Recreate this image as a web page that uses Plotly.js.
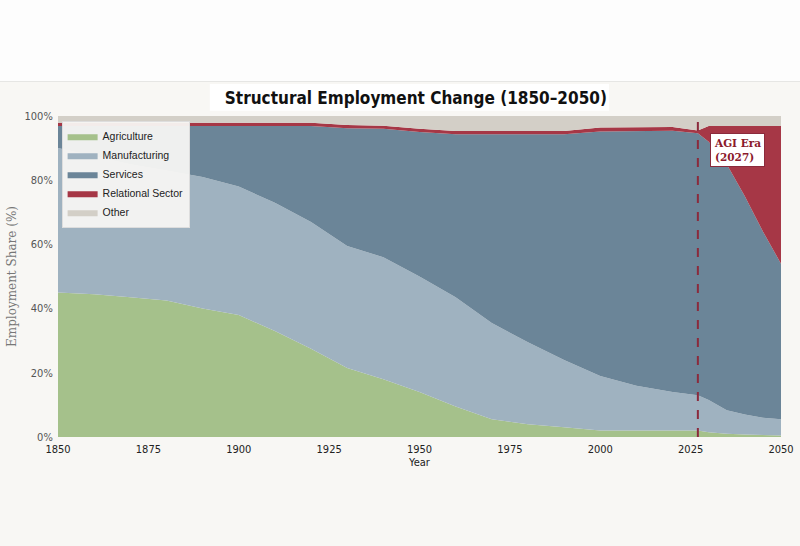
<!DOCTYPE html>
<html>
<head>
<meta charset="utf-8">
<script src="https://cdn.plot.ly/plotly-3.0.1.min.js"></script>
<style>
  html, body { margin: 0; padding: 0; background: #fdfdfd; width: 800px; height: 546px; overflow: hidden; }
  #topband { position: absolute; left: 0; top: 0; width: 800px; height: 81px; background: #fdfdfd; border-bottom: 1px solid #e6e6e4; }
  #chart { position: absolute; left: 0; top: 82px; width: 800px; height: 464px; }
</style>
</head>
<body>
<div id="topband"></div>
<div id="chart"></div>
<script>
// ---- data (employment share, % of total) ----
const years = [1850,1860,1870,1880,1890,1900,1910,1920,1930,1940,1950,1960,1970,1980,1990,2000,2010,2020,2027,2030,2035,2040,2045,2050];
const agriculture   = [45,44.5,43.5,42.5,40,38,33,27.5,21.5,18,14,9.5,5.5,4,3,2,2,2,2,1.5,1,0.8,0.6,0.5];
const manufacturing = [45,43,41.5,40.5,41,40,40,39.5,38,38,36,34,30,25.5,21,17,14,12,11,10,7.3,6.2,5.4,5.0];
const services      = [6.9,9.4,11.9,13.9,15.9,18.9,23.9,29.9,36.7,40,45,50.8,58.8,64.8,70.3,76.2,79.4,81.4,81.6,80.5,76.7,68,58,48.5];
const relational    = [1,1,1,1,1,1,1,1,1,1,1,1,1,1,1,1.2,1.2,1.2,0.9,4.9,11.9,21.9,32.9,42.9];
const other         = [2.1,2.1,2.1,2.1,2.1,2.1,2.1,2.1,2.8,3.0,4.0,4.7,4.7,4.7,4.7,3.6,3.4,3.4,4.5,3.1,3.1,3.1,3.1,3.1];
const seriesNames   = ["Agriculture","Manufacturing","Services","Relational Sector","Other"];
const seriesColors  = ["#a5c18b","#9fb2c0","#6b8598","#a63746","#d3cfc7"];
const agiYear = 2027;
const xTicks = [1850,1875,1900,1925,1950,1975,2000,2025,2050];
const yTicks = [0,20,40,60,80,100];
const yTickText = ["0%","20%","40%","60%","80%","100%"];

const seriesValues = [agriculture, manufacturing, services, relational, other];
const traces = seriesValues.map((vals, i) => ({
  type: "scatter",
  mode: "lines",
  x: years,
  y: vals,
  name: seriesNames[i],
  stackgroup: "one",
  line: { width: 0, color: seriesColors[i] },
  fillcolor: seriesColors[i],
  hoverinfo: "x+y+name"
}));

const layout = {
  width: 800,
  height: 464,
  paper_bgcolor: "#f8f7f4",
  plot_bgcolor: "#f8f7f4",
  margin: { l: 58, r: 19, t: 34, b: 109 },
  title: {
    text: "<b>Structural Employment Change (1850–2050)</b>",
    font: { family: "DejaVu Sans Condensed, DejaVu Sans", size: 17, color: "#111" },
    xref: "paper", x: 0.495, xanchor: "center",
    yref: "container", y: 0.966, yanchor: "middle"
  },
  xaxis: {
    range: [1850, 2050],
    tickvals: xTicks,
    ticktext: xTicks.map(String),
    showgrid: false, zeroline: false, showline: false,
    ticks: "outside", ticklen: 2, tickcolor: "rgba(0,0,0,0)",
    tickfont: { family: "DejaVu Sans Condensed, DejaVu Sans", size: 11, color: "#222" },
    title: { text: "Year", font: { family: "DejaVu Sans Condensed, DejaVu Sans", size: 11, color: "#222" }, standoff: 2 }
  },
  yaxis: {
    range: [0, 100],
    tickvals: yTicks,
    ticktext: yTickText,
    showgrid: false, zeroline: false, showline: false,
    ticks: "outside", ticklen: 2, tickcolor: "rgba(0,0,0,0)",
    tickfont: { family: "DejaVu Sans Condensed, DejaVu Sans", size: 11, color: "#555" },
    title: { text: "Employment Share (%)", font: { family: "DejaVu Serif, Liberation Serif", size: 12, color: "#777" }, standoff: 5 }
  },
  legend: {
    x: 0.005, y: 0.985, xanchor: "left", yanchor: "top",
    bgcolor: "rgba(247,246,243,0.95)",
    bordercolor: "#dddddd", borderwidth: 1,
    font: { family: "Liberation Sans, Arial", size: 10.5, color: "#222" },
    traceorder: "normal",
    itemwidth: 30,
    tracegroupgap: 0
  },
  shapes: [
    { type: "rect", xref: "paper", yref: "paper", x0: 0.21, x1: 0.762, y0: 1.016, y1: 1.1, fillcolor: "#ffffff", line: { width: 0 }, layer: "below" },
    { type: "line", xref: "x", yref: "paper", x0: agiYear, x1: agiYear, y0: 0, y1: 1.005, line: { color: "#8b2a3c", width: 2, dash: "dash" } }
  ],
  annotations: [
    {
      xref: "x", yref: "y", x: 2038, y: 89.5,
      text: "<b>AGI Era<br>(2027)</b>",
      showarrow: false,
      align: "left",
      font: { family: "DejaVu Serif, Liberation Serif", size: 10.5, color: "#8b1a2c" },
      bgcolor: "#ffffff", bordercolor: "#8b2a3c", borderwidth: 1, borderpad: 3
    }
  ],
  showlegend: true
};

Plotly.newPlot("chart", traces, layout, { displayModeBar: false, staticPlot: true });
</script>
</body>
</html>
